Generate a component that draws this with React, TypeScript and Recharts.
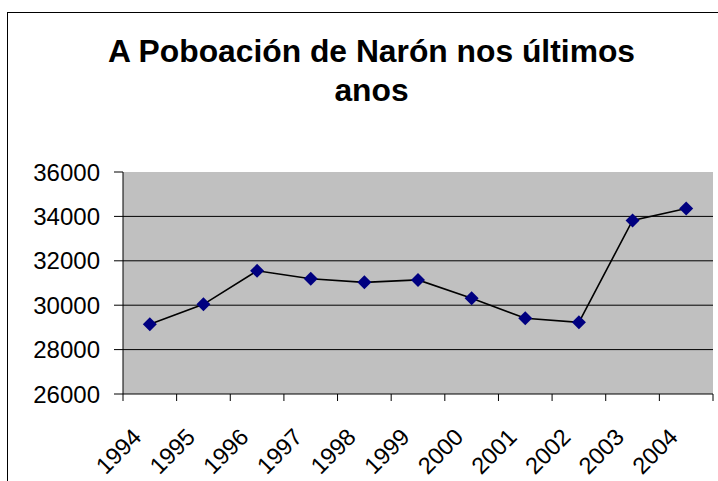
import { LineChart, Line, XAxis, YAxis, CartesianGrid } from "recharts";

const anos = ["1994", "1995", "1996", "1997", "1998", "1999", "2000", "2001", "2002", "2003", "2004"];
const poboacion = [29140, 30040, 31550, 31190, 31030, 31140, 30310, 29410, 29230, 33820, 34360];
const ticksY = [26000, 28000, 30000, 32000, 34000, 36000];
const liñasGrella = [28000, 30000, 32000, 34000];

const datos = anos.map((ano, i) => ({ ano, valor: poboacion[i] }));

const FONTE = "'Liberation Sans', Arial, sans-serif";
const ANCHO = 718;
const ALTO = 481;
const PLOT_ESQ = 123;
const PLOT_DER = 713;
const PLOT_ANCHO = PLOT_DER - PLOT_ESQ;
const BANDA = PLOT_ANCHO / anos.length;

function TickX(props: any) {
  const { x, y, payload, index } = props;
  const esq = x - BANDA / 2;
  const tx = x - 7;
  const ty = y + 44.5;
  return (
    <g>
      <line x1={esq} y1={y} x2={esq} y2={y + 7} stroke="#000" />
      {index === anos.length - 1 && (
        <line x1={x + BANDA / 2} y1={y} x2={x + BANDA / 2} y2={y + 7} stroke="#000" />
      )}
      <text
        x={tx}
        y={ty}
        textAnchor="end"
        transform={`rotate(-45, ${tx}, ${ty})`}
        fontSize={23.5}
        fontFamily={FONTE}
        fill="#000"
      >
        {payload.value}
      </text>
    </g>
  );
}

function Rombo(props: any) {
  const { cx, cy } = props;
  if (cx == null || cy == null) return null;
  const r = 7;
  return (
    <path
      d={`M${cx},${cy - r}L${cx + r},${cy}L${cx},${cy + r}L${cx - r},${cy}Z`}
      fill="#000080"
      stroke="none"
    />
  );
}

export default function App() {
  return (
    <div
      style={{
        position: "absolute",
        left: 0,
        top: 0,
        width: ANCHO,
        height: ALTO,
        overflow: "hidden",
        background: "#fff",
        fontFamily: FONTE,
      }}
    >
      <div
        style={{
          position: "absolute",
          left: 7,
          top: 12,
          width: 800,
          height: 600,
          border: "1px solid #000",
        }}
      />
      <div
        style={{
          position: "absolute",
          left: 0,
          top: 31.6,
          width: 743,
          textAlign: "center",
          fontSize: 31.8,
          fontWeight: "bold",
          lineHeight: "39px",
          color: "#000",
        }}
      >
        A Poboación de Narón nos últimos
        <br />
        anos
      </div>
      <div style={{ position: "absolute", left: 0, top: 0 }}>
        <LineChart
          width={ANCHO}
          height={ALTO}
          data={datos}
          margin={{ top: 172, right: ANCHO - PLOT_DER, left: 0, bottom: 0 }}
        >
          <CartesianGrid
            vertical={false}
            horizontalValues={liñasGrella}
            fill="#C0C0C0"
            stroke="#000"
            strokeOpacity={1}
          />
          <XAxis
            dataKey="ano"
            height={87}
            interval={0}
            padding={{ left: BANDA / 2, right: BANDA / 2 }}
            tickLine={false}
            tickSize={0}
            tickMargin={0}
            axisLine={{ stroke: "#000" }}
            tick={<TickX />}
          />
          <YAxis
            width={PLOT_ESQ}
            domain={[26000, 36000]}
            ticks={ticksY}
            interval={0}
            tickSize={9}
            tickMargin={14}
            axisLine={{ stroke: "#000" }}
            tickLine={{ stroke: "#000" }}
            tick={{ fontSize: 24, fill: "#000", fontFamily: FONTE }}
          />
          <Line
            type="linear"
            dataKey="valor"
            stroke="#000"
            strokeWidth={1.6}
            dot={<Rombo />}
            activeDot={false}
            isAnimationActive={false}
          />
        </LineChart>
      </div>
    </div>
  );
}
